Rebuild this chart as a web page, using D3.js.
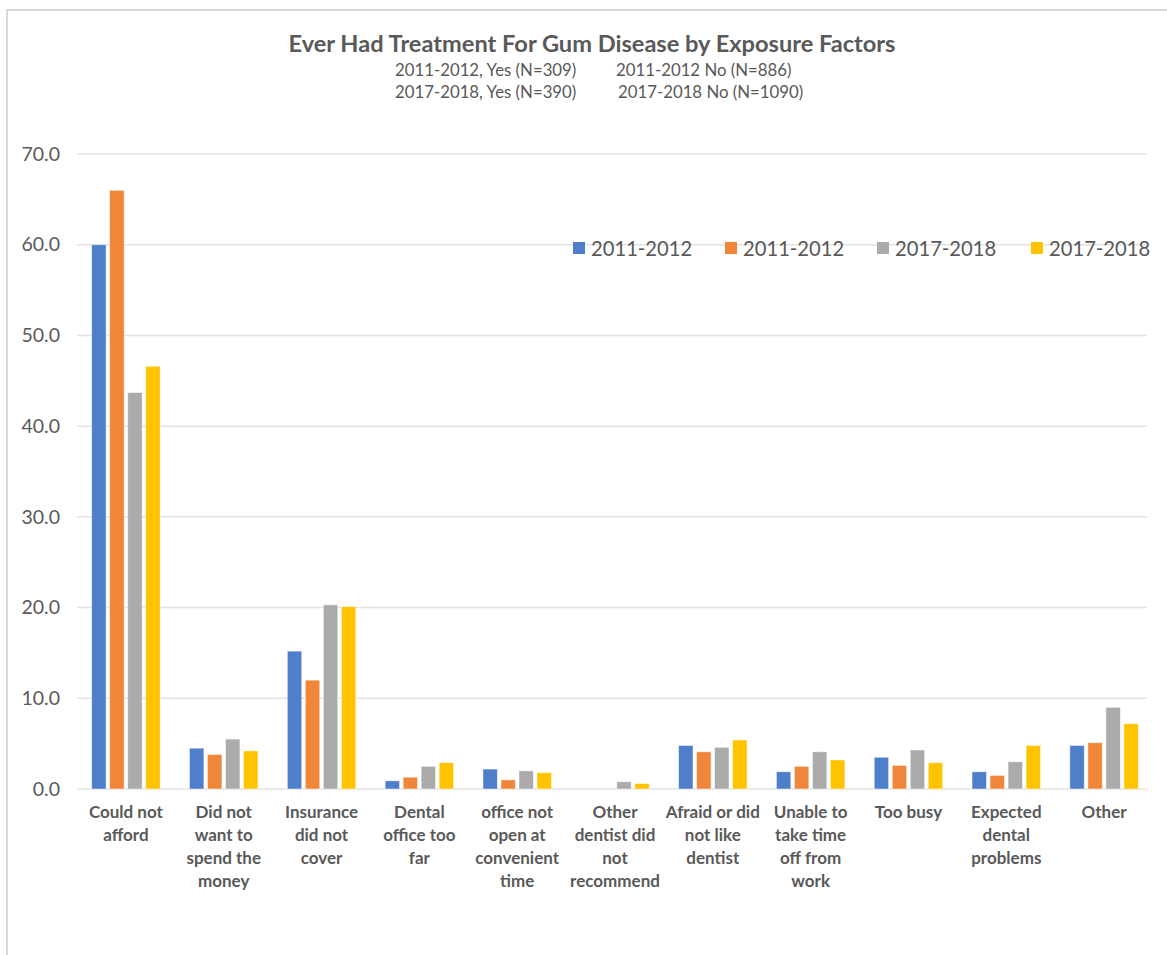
<!DOCTYPE html>
<html><head><meta charset="utf-8">
<script src="https://cdn.jsdelivr.net/npm/d3@7"></script>
<style>body{margin:0;background:#fff;} svg{display:block;font-family:Lato,'Open Sans',sans-serif;}</style>
</head><body><svg id="c" width="1167" height="955"></svg>
<script>
const categories = [
  ["Could not","afford"],
  ["Did not","want to","spend the","money"],
  ["Insurance","did not","cover"],
  ["Dental","office too","far"],
  ["office not","open at","convenient","time"],
  ["Other","dentist did","not","recommend"],
  ["Afraid or did","not like","dentist"],
  ["Unable to","take time","off from","work"],
  ["Too busy"],
  ["Expected","dental","problems"],
  ["Other"]
];
const seriesNames = ["2011-2012","2011-2012","2017-2018","2017-2018"];
const yes2011 = [60.0, 4.5, 15.2, 0.9, 2.2, 0.0, 4.8, 1.9, 3.5, 1.9, 4.8];
const no2011  = [66.0, 3.8, 12.0, 1.3, 1.0, 0.0, 4.1, 2.5, 2.6, 1.5, 5.1];
const yes2017 = [43.7, 5.5, 20.3, 2.5, 2.0, 0.8, 4.6, 4.1, 4.3, 3.0, 9.0];
const no2017  = [46.6, 4.2, 20.1, 2.9, 1.8, 0.6, 5.4, 3.2, 2.9, 4.8, 7.2];
const yTicks = [0,10,20,30,40,50,60,70];
const title = "Ever Had Treatment For Gum Disease by Exposure Factors";
const subtitle = [["2011-2012, Yes (N=309)","2011-2012 No (N=886)"],["2017-2018, Yes (N=390)","2017-2018 No (N=1090)"]];

const series = [yes2011, no2011, yes2017, no2017];
const colors = ["#4F7ECB","#EF8639","#ABABAB","#FFC300"];
const txt = "#595959";

const svg = d3.select("#c");
// chart border
svg.append("path").attr("d","M7,960 V10 H1170").attr("fill","none").attr("stroke","#d9d9d9").attr("stroke-width",2);

const pLeft = 77, pRight = 1147, pTop = 154, pBottom = 789;
const x = d3.scaleBand().domain(d3.range(categories.length)).range([pLeft,1153]).paddingInner(0.3).paddingOuter(0.15);
const xs = d3.scaleBand().domain(d3.range(series.length)).range([0,x.bandwidth()]).paddingInner(0.2);
const y = d3.scaleLinear().domain([0,70]).range([pBottom,pTop]);

// gridlines
svg.append("g").selectAll("line").data(yTicks).join("line")
  .attr("x1",pLeft).attr("x2",pRight).attr("y1",d=>y(d)).attr("y2",d=>y(d))
  .attr("stroke","#e3e3e3").attr("stroke-width",1.5);

// y axis labels
const yAxis = d3.axisLeft(y).tickValues(yTicks).tickFormat(d3.format(".1f")).tickSize(0).tickPadding(0);
const gy = svg.append("g").attr("transform","translate(60,0)").call(yAxis);
gy.select(".domain").remove();
gy.selectAll("text").attr("fill",txt).style("font-size","19.5px").style("font-family","Lato,sans-serif");

// bars
series.forEach((vals,si)=>{
  svg.append("g").selectAll("rect").data(vals).join("rect")
    .attr("x",(d,i)=>x(i)+xs(si)).attr("width",xs.bandwidth())
    .attr("y",d=>y(d)).attr("height",d=>y(0)-y(d))
    .attr("fill",colors[si]).attr("stroke","#fff").attr("stroke-opacity",0.6).attr("stroke-width",0.8);
});

// x labels
const gx = svg.append("g");
categories.forEach((lines,i)=>{
  const cx = x(i)+x.bandwidth()/2;
  const t = gx.append("text").attr("x",cx).attr("y",818)
    .attr("text-anchor","middle").attr("fill",txt).style("font-size","17px").style("font-weight","bold");
  lines.forEach((l,j)=>t.append("tspan").attr("x",cx).attr("dy",j===0?0:23).text(l));
});

// title
svg.append("text").attr("x",592).attr("y",52).attr("text-anchor","middle").attr("fill",txt)
  .style("font-size","23.6px").style("font-weight","bold").text(title);
const subX = [[395, 616],[395, 618]];
subtitle.forEach((row,r)=>{
  row.forEach((s,c)=>{
    svg.append("text").attr("x",subX[r][c]).attr("y",76+r*22).attr("fill",txt)
      .style("font-size","16.8px").text(s);
  });
});

// legend
const legX = [573, 725, 877, 1031];
const lg = svg.append("g");
seriesNames.forEach((n,i)=>{
  lg.append("rect").attr("x",legX[i]).attr("y",242).attr("width",12).attr("height",12).attr("fill",colors[i]);
  lg.append("text").attr("x",legX[i]+18).attr("y",256).attr("fill",txt).style("font-size","20.2px").text(n);
});
</script></body></html>
